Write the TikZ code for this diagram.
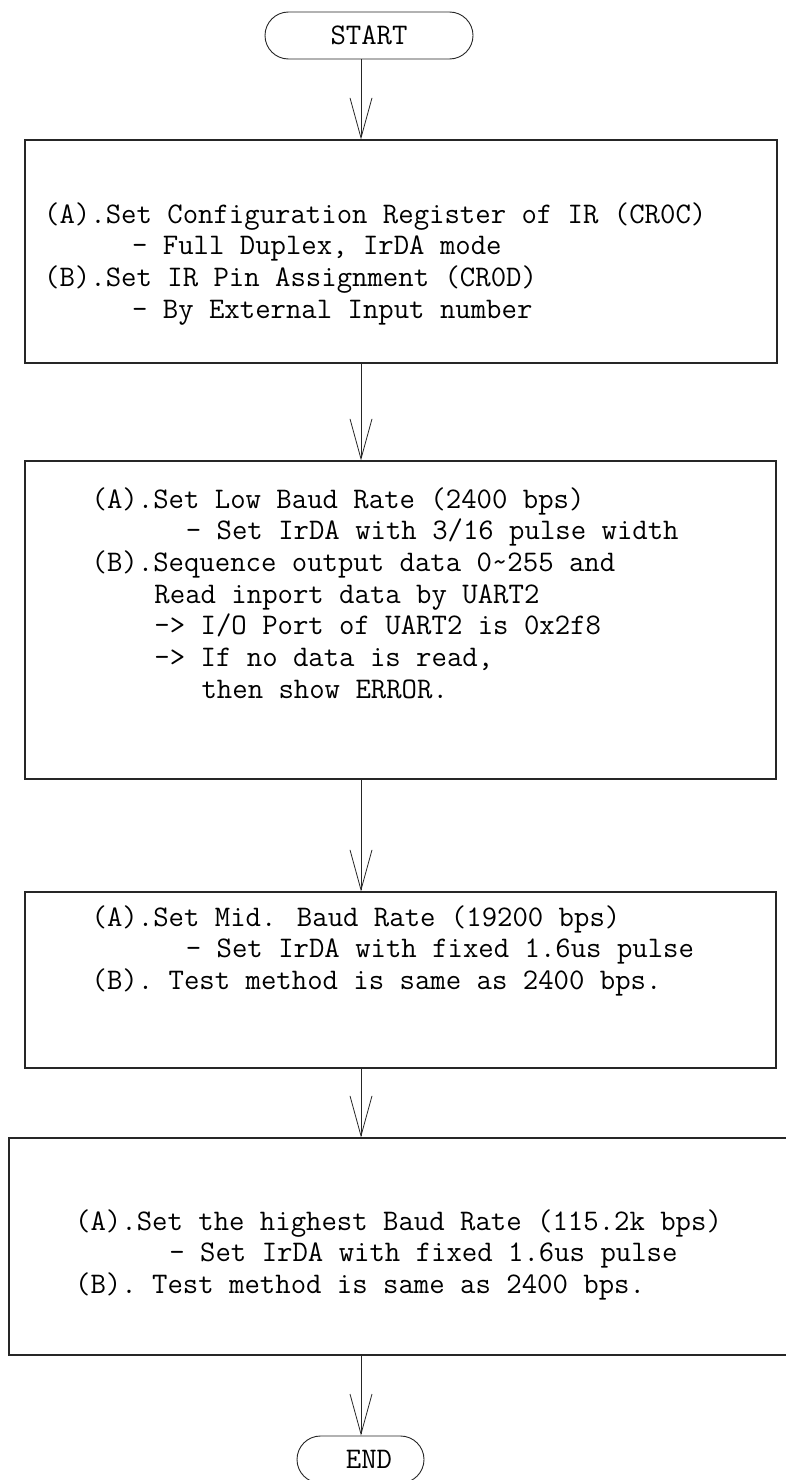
\documentclass[tikz,border=0pt]{standalone}
\usepackage{fontspec}
\usetikzlibrary{arrows.meta,shapes.misc}
\newcommand\ind[1]{\hspace*{#1\dimexpr0.525em\relax}}
\tikzset{
  boxnode/.style={draw=black!85, line width=1.2pt, rectangle, inner sep=0pt},
  termnode/.style={draw=black!85, line width=0.9pt, rounded rectangle, inner sep=0pt, minimum height=47pt},
  txt/.style={anchor=north west, inner sep=0pt, align=left, font=\ttfamily\fontsize{29.9}{31.7}\selectfont},
  termtxt/.style={font=\ttfamily\fontsize{29.9}{31.7}\selectfont},
  arr/.style={draw=black!85, line width=0.8pt, -{Straight Barb[length=40pt,width=22pt]}},
}
\begin{document}
\begin{tikzpicture}[x=1pt,y=-1pt]
\useasboundingbox (0,0) rectangle (785,1480);
\fill[white] (0,0) rectangle (785,1480);
\coordinate (ax) at (361,0);
% terminals
\node[termnode, termtxt, minimum width=208pt] (start) at (369,35.5) {START};
\node[termnode, termtxt, minimum width=127pt] (end) at (360.5,1459.5) {\hspace*{17pt}END};
% boxes
\node[boxnode, minimum width=752pt, minimum height=223pt] (b1) at (401,251.5) {};
\node[boxnode, minimum width=751pt, minimum height=318pt] (b2) at (400.5,620) {};
\node[boxnode, minimum width=751pt, minimum height=176pt] (b3) at (400.5,980) {};
\node[boxnode, minimum width=791pt, minimum height=217pt] (b4) at (404.5,1246.5) {};
% texts
\node[txt] (t1) at (44,200.8) {\strut(A).Set Configuration Register of IR (CR0C)\\
\strut\ind{5.6}- Full Duplex, IrDA mode\\
\strut(B).Set IR Pin Assignment (CR0D)\\
\strut\ind{5.6}- By External Input number};
\node[txt] (t2) at (91.5,485.8) {\strut(A).Set Low Baud Rate (2400 bps)\\
\strut\ind{6}- Set IrDA with 3/16 pulse width\\
\strut(B).Sequence output data 0\textasciitilde255 and\\
\strut\ind{4}Read inport data by UART2\\
\strut\ind{4}-> I/O Port of UART2 is 0x2f8\\
\strut\ind{4}-> If no data is read,\\
\strut\ind{7}then show ERROR.};
\node[txt] (t3) at (91.5,903.8) {\strut(A).Set Mid. Baud Rate (19200 bps)\\
\strut\ind{6}- Set IrDA with fixed 1.6us pulse\\
\strut(B). Test method is same as 2400 bps.};
\node[txt] (t4) at (75,1207.8) {\strut(A).Set the highest Baud Rate (115.2k bps)\\
\strut\ind{6}- Set IrDA with fixed 1.6us pulse\\
\strut(B). Test method is same as 2400 bps.};
% connectors
\draw[arr] (start.south -| ax) -- (b1.north -| ax);
\draw[arr] (b1.south -| ax) -- (b2.north -| ax);
\draw[arr] (b2.south -| ax) -- (b3.north -| ax);
\draw[arr] (b3.south -| ax) -- (b4.north -| ax);
\draw[arr] (b4.south -| ax) -- (end.north -| ax);
\end{tikzpicture}
\end{document}
